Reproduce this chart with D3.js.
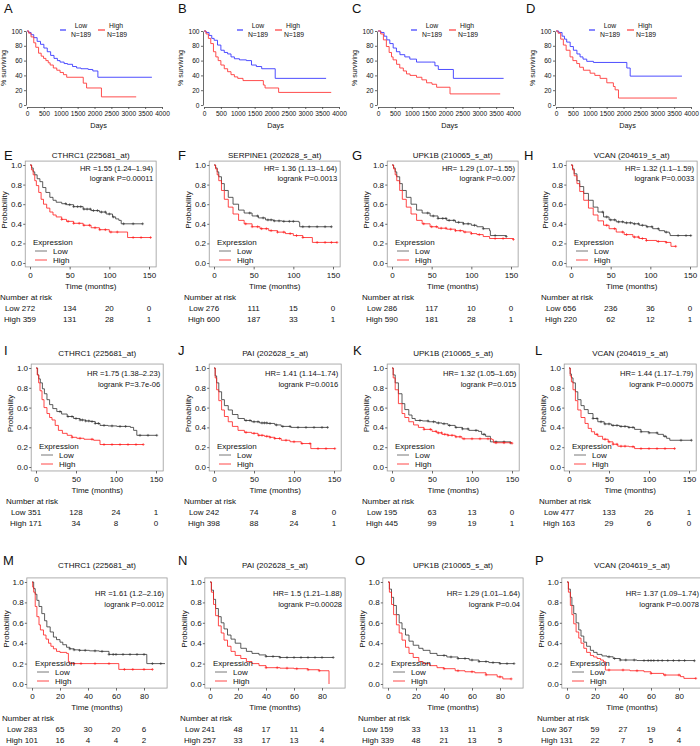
<!DOCTYPE html>
<html>
<head>
<meta charset="utf-8">
<script src="https://cdn.jsdelivr.net/npm/d3@7"></script>
<style>
  body { margin: 0; background: #fff; }
  svg text { font-family: "Liberation Sans", Arial, sans-serif; }
</style>
</head>
<body>
<svg id="fig" width="700" height="746"></svg>
<script>
// ---- top row (A-D): survival in days ----
var topLetters = ["A", "B", "C", "D"];
var topN = ["N=189", "N=189", "N=189", "N=189"];
var dayTicks = [0, 500, 1000, 1500, 2000, 2500, 3000, 3500, 4000];
var pctTicks = [0, 20, 40, 60, 80, 100];

var daysLow = [
  [[0,100],[50,98],[120,95],[200,91],[300,86],[400,82],[500,77],[600,72],[700,67],[800,63],[900,60],[980,58],[1100,56],[1200,55],[1350,52],[1470,50],[1600,49],[1814,48],[1950,46],[2100,37.5],[3700,37.5]],
  [[0,100],[60,98],[150,94],[230,90],[300,87.5],[400,81],[500,74],[600,71],[700,69],[800,65],[900,62.5],[1050,61],[1256,60],[1407,54],[1550,52],[1709,49],[2110,36],[3618,36]],
  [[0,100],[80,98],[180,93],[260,88],[350,83],[450,77],[546,72],[650,68],[794,65],[943,62],[1141,58],[1588,58],[1687,53],[1787,48],[2233,36],[3722,36]],
  [[0,100],[80,98],[180,93],[250,89],[317,85],[420,79],[515,74],[620,69],[713,65],[800,62],[911,59],[1109,57.5],[2099,50],[2198,39],[3732,39]]
];
var daysHigh = [
  [[0,100],[50,97],[120,92],[200,84],[260,78],[343,70],[420,66],[490,63],[560,60],[630,57],[686,54],[780,50],[882,47],[980,44],[1080,41],[1176,37.5],[1667,29.5],[1765,23],[2206,11],[3235,11]],
  [[0,100],[60,96],[130,90],[200,83],[280,72],[350,65],[420,60],[500,54],[600,49],[700,45],[800,41],[900,38],[1000,36],[1156,33],[1759,27],[1809,23],[2211,17],[3769,17]],
  [[0,100],[80,96],[160,88],[248,79],[330,71],[400,65],[447,61],[550,55],[645,50],[750,46],[844,42],[950,40],[1141,37.5],[1300,34],[1439,30],[1600,28],[1737,24],[2134,15],[3620,15]],
  [[0,100],[60,97],[140,89],[218,81],[300,74],[416,65],[500,60],[614,56],[700,51],[812,47],[1010,43],[1150,40],[1307,36],[1505,30],[1700,25],[1752,20.5],[1851,9.4],[3584,9.4]]
];

// ---- KM panels (E-P): probability vs months ----
var kmLetters = ["E","F","G","H","I","J","K","L","M","N","O","P"];
var kmTitles = ["CTHRC1 (225681_at)","SERPINE1 (202628_s_at)","UPK1B (210065_s_at)","VCAN (204619_s_at)",
  "CTHRC1 (225681_at)","PAI (202628_s_at)","UPK1B (210065_s_at)","VCAN (204619_s_at)",
  "CTHRC1 (225681_at)","PAI (202628_s_at)","UPK1B (210065_s_at)","VCAN (204619_s_at)"];
var kmHR = ["HR =1.55 (1.24\u20131.94)","HR= 1.36 (1.13\u20131.64)","HR= 1.29 (1.07\u20131.55)","HR= 1.32 (1.1\u20131.59)",
  "HR =1.75 (1.38\u20132.23)","HR= 1.41 (1.14\u20131.74)","HR= 1.32 (1.05\u20131.65)","HR= 1.44 (1.17\u20131.79)",
  "HR =1.61 (1.2\u20132.16)","HR= 1.5 (1.21\u20131.88)","HR= 1.29 (1.01\u20131.64)","HR= 1.37 (1.09\u20131.74)"];
var kmP = ["logrank P=0.00011","logrank P=0.0013","logrank P=0.007","logrank P=0.0033",
  "logrank P=3.7e-06","logrank P=0.0016","logrank P=0.015","logrank P=0.00075",
  "logrank P=0.0012","logrank P=0.00028","logrank P=0.04","logrank P=0.0078"];
var riskLow = [[272,134,20,0],[276,111,15,0],[286,117,10,0],[656,236,36,0],
  [351,128,24,1],[242,74,8,0],[195,63,13,0],[477,133,26,1],
  [283,65,30,20,6],[241,48,17,11,4],[159,33,13,11,3],[367,59,27,19,4]];
var riskHigh = [[359,131,28,1],[600,187,33,1],[590,181,28,1],[220,62,12,1],
  [171,34,8,0],[398,88,24,1],[445,99,19,1],[163,29,6,0],
  [101,16,4,4,2],[257,33,17,13,4],[339,48,21,13,5],[131,22,7,5,4]];
var monthTicksLong = [0, 50, 100, 150];
var monthTicksShort = [0, 20, 40, 60, 80];
var probTicks = [0, 0.2, 0.4, 0.6, 0.8, 1];

var kmLow = [
  [[0,1],[2,0.97],[4,0.93],[6,0.9],[9,0.86],[12.5,0.83],[16,0.77],[20,0.72],[25,0.67],[29,0.64],[33,0.62],[40,0.605],[46,0.595],[55,0.575],[67,0.55],[77,0.535],[87.5,0.52],[96,0.5],[104,0.47],[108,0.45],[112,0.435],[115,0.4],[142,0.4]],
  [[0,1],[2,0.97],[4,0.93],[6,0.88],[9.4,0.81],[13,0.74],[18,0.67],[24,0.6],[31,0.54],[38,0.51],[48,0.48],[56,0.46],[65,0.44],[75,0.43],[86,0.425],[107,0.415],[108,0.37],[148,0.37]],
  [[0,1],[2,0.97],[4,0.93],[6,0.88],[9.7,0.81],[13,0.74],[18,0.67],[24,0.6],[31,0.54],[38,0.51],[48,0.48],[58,0.455],[69,0.435],[80,0.415],[90,0.4],[100,0.385],[107,0.37],[115,0.35],[123,0.33],[124,0.28],[144,0.27]],
  [[0,1],[2,0.96],[4,0.91],[7.5,0.84],[11,0.78],[16,0.71],[22,0.64],[28,0.57],[34,0.52],[41,0.47],[48,0.44],[57,0.42],[67,0.41],[78,0.4],[86,0.385],[95,0.37],[103,0.35],[111,0.33],[118,0.315],[124,0.3],[125,0.28],[151,0.28]],
  [[0,1],[2,0.93],[3.5,0.89],[5.4,0.85],[8,0.79],[10.5,0.74],[13.7,0.68],[17,0.63],[21,0.59],[26,0.56],[32,0.535],[39,0.51],[47,0.49],[55,0.475],[62,0.465],[68,0.46],[74,0.44],[80,0.42],[90,0.415],[101,0.41],[118,0.4],[122,0.37],[126,0.32],[151,0.32]],
  [[0,1],[1.5,0.92],[3.3,0.85],[6,0.76],[9.5,0.68],[13,0.62],[17.8,0.576],[23,0.53],[30,0.49],[38,0.47],[47,0.457],[57,0.445],[67,0.44],[76,0.425],[84,0.41],[96,0.4],[142,0.4]],
  [[0,1],[1.5,0.93],[4,0.85],[8,0.74],[12.5,0.64],[16,0.58],[21,0.525],[25,0.49],[29,0.47],[38,0.465],[46,0.457],[55,0.445],[62.5,0.437],[70,0.42],[79,0.4],[88,0.385],[96,0.37],[108,0.36],[112,0.33],[117,0.31],[123,0.254],[148,0.244]],
  [[0,1],[1.5,0.94],[3,0.9],[5,0.85],[8,0.76],[11,0.68],[15,0.62],[19,0.58],[24,0.54],[30,0.49],[36,0.457],[44,0.435],[53,0.42],[63,0.41],[74,0.4],[82,0.38],[90,0.356],[100,0.345],[111,0.33],[118,0.31],[122,0.29],[126,0.27],[153,0.27]],
  [[0,1],[1.2,0.935],[2.3,0.88],[3.5,0.82],[5,0.76],[7,0.69],[9,0.62],[10.6,0.56],[13,0.51],[15.3,0.46],[17.5,0.435],[20,0.41],[22,0.385],[24.7,0.36],[27,0.345],[30,0.335],[34,0.33],[41,0.325],[48,0.32],[55,0.29],[82,0.2],[95,0.2]],
  [[0,1],[1,0.92],[2.5,0.83],[4,0.74],[6,0.66],[8,0.6],[10,0.54],[12.5,0.48],[15,0.44],[18,0.4],[22,0.35],[26,0.32],[30,0.3],[35,0.285],[40,0.27],[50,0.26],[88,0.26]],
  [[0,1],[1,0.93],[2.5,0.85],[4,0.77],[6,0.68],[8,0.6],[10,0.54],[12.5,0.48],[15,0.42],[18,0.38],[22,0.35],[25,0.33],[30,0.3],[35,0.28],[42,0.265],[50,0.25],[58,0.235],[65,0.22],[72,0.21],[80,0.2],[90,0.2]],
  [[0,1],[1,0.93],[2.4,0.85],[3.5,0.77],[4.8,0.69],[6.5,0.6],[8.4,0.53],[10,0.47],[12,0.41],[14,0.37],[16.7,0.33],[19,0.31],[21.5,0.29],[25,0.275],[28.6,0.267],[33,0.25],[38,0.235],[50,0.23],[91,0.228]]
];
var kmHigh = [
  [[0,1],[2,0.95],[4,0.9],[6,0.84],[8,0.79],[11,0.72],[14,0.65],[17,0.6],[21,0.56],[25,0.52],[29,0.49],[33,0.47],[40,0.445],[46,0.425],[55,0.405],[67,0.385],[77,0.36],[87.5,0.34],[100,0.316],[123,0.26],[152,0.26]],
  [[0,1],[2,0.96],[4,0.9],[6,0.84],[9.4,0.74],[13,0.65],[18,0.57],[24,0.5],[31,0.435],[38,0.4],[48,0.37],[58,0.35],[69,0.33],[80,0.315],[90,0.3],[100,0.28],[112,0.26],[124,0.21],[155,0.21]],
  [[0,1],[2,0.96],[4,0.9],[6,0.84],[9.7,0.74],[13,0.65],[18,0.57],[24,0.5],[31,0.435],[38,0.4],[48,0.37],[58,0.355],[69,0.345],[80,0.33],[90,0.316],[100,0.3],[107,0.29],[115,0.27],[123,0.25],[153,0.24]],
  [[0,1],[2,0.95],[4,0.89],[7.5,0.81],[11,0.73],[16,0.64],[22,0.56],[28,0.49],[34,0.43],[41,0.385],[48,0.35],[57,0.316],[67,0.29],[78,0.265],[86,0.25],[95,0.23],[108,0.22],[120,0.21],[126,0.17],[132,0.17]],
  [[0,1],[1.5,0.93],[3.3,0.85],[5,0.77],[7.5,0.68],[10,0.6],[13.7,0.54],[17,0.5],[20,0.475],[24,0.42],[28,0.37],[33,0.34],[39,0.32],[45,0.3],[51,0.29],[60,0.28],[72,0.27],[80,0.227],[134,0.227]],
  [[0,1],[1.5,0.9],[3.3,0.78],[6,0.67],[9.5,0.576],[13,0.51],[17.8,0.457],[23,0.41],[30,0.37],[38,0.35],[47,0.34],[55,0.32],[63,0.31],[70,0.3],[76,0.288],[84,0.27],[95,0.255],[109,0.237],[121,0.186],[151,0.186]],
  [[0,1],[1.5,0.9],[4,0.78],[8,0.64],[12.5,0.54],[16,0.5],[21,0.457],[27,0.425],[33,0.4],[40,0.38],[50,0.36],[56,0.345],[62.5,0.33],[70,0.32],[79,0.305],[87.5,0.285],[125,0.275],[127,0.245],[150,0.24]],
  [[0,1],[1.5,0.92],[3,0.86],[5,0.78],[8,0.67],[11,0.576],[15,0.5],[20,0.44],[24,0.39],[28,0.356],[32,0.33],[36,0.31],[42,0.28],[49,0.254],[55,0.23],[61,0.21],[75,0.205],[82,0.186],[132,0.186]],
  [[0,1],[0.5,0.95],[1.2,0.9],[2.3,0.76],[3.5,0.66],[5,0.58],[6,0.53],[8.2,0.48],[10,0.44],[11.8,0.4],[13.5,0.37],[15.3,0.345],[17.5,0.32],[20,0.31],[24.7,0.3],[26,0.218],[27,0.2],[62,0.143],[86,0.143]],
  [[0,1],[1,0.9],[2.5,0.78],[4,0.67],[6,0.57],[8,0.5],[10,0.43],[12.5,0.37],[15,0.32],[18,0.28],[22,0.25],[26,0.22],[30,0.2],[35,0.18],[40,0.16],[50,0.155],[60,0.15],[70,0.14],[78,0.13],[85,0]],
  [[0,1],[1,0.9],[2.5,0.78],[4,0.68],[6,0.58],[8,0.5],[10,0.43],[12.5,0.36],[15,0.3],[18,0.26],[22,0.22],[25,0.2],[30,0.18],[35,0.16],[40,0.15],[48,0.13],[55,0.12],[62,0.11],[70,0.09],[78,0.07],[82,0.05],[88,0.05]],
  [[0,1],[1,0.9],[2.4,0.77],[3.5,0.68],[4.8,0.59],[6.5,0.51],[8.4,0.45],[10,0.4],[12,0.35],[14,0.31],[16.7,0.28],[19,0.265],[21.5,0.25],[24,0.235],[26,0.218],[27.4,0.137],[45,0.13],[55,0.12],[60,0.104],[69,0.088],[81,0.072],[83.5,0.055],[92,0.055]]
];
// censoring times (months)
var censorLow = [
  [45,50,55,60,64,68,72,76,80,85,90,95,100,105,118,130,142],
  [45,55,62,68,72,76,82,88,95,100,112,120,130,140,148],
  [45,52,58,64,68,72,78,84,90,96,104,115,130,144],
  [40,45,50,55,60,65,70,75,80,85,90,96,102,110,120,135,145,151],
  [30,40,45,50,55,58,62,66,70,74,78,85,95,105,112,130,140,151],
  [40,45,50,55,60,63,66,70,78,86,95,105,115,125,135,142],
  [35,45,52,58,65,72,80,88,95,105,115,130,140,148],
  [30,35,40,45,50,55,60,65,70,75,80,90,100,110,120,140,153],
  [27,30,34,38,45,50,55,58,60,65,70,75,80,86,92],
  [40,45,50,55,60,65,70,75,80,88],
  [40,45,50,55,60,65,70,75,80,85,90],
  [30,34,38,42,48,55,58,60,62,65,68,72,76,80,84,91]
];
var censorHigh = [
  [40,48,55,62,68,75,82,88,95,102,110,130,140,152],
  [40,48,55,60,66,72,80,88,96,104,112,130,140,148,155],
  [40,50,56,62,68,74,80,86,92,100,110,130,140,153],
  [45,55,65,70,80,85,90,95,110,120,132],
  [45,55,70,85,95,105,115,125,134],
  [40,50,56,60,66,70,76,82,90,100,110,120,130,140,151],
  [40,48,55,58,62,66,70,75,80,85,90,100,110,120,130,140,150],
  [35,45,50,55,60,65,70,80,90,100,110,120,132],
  [30,35,45,55,66,72,80,86],
  [40,48,55,62,70,78],
  [40,50,60,70,80,88],
  [30,40,50,60,70,80,92]
];

// ---- layout ----
var svg = d3.select("#fig");
var FONT = '"Liberation Sans", Arial, sans-serif';
var topX = [27, 204, 378, 556], topW = 135, topY1 = 31, topY0 = 105;
var topLetterX = [4, 178, 352, 526];
var kmRows = [
  {x0: [30, 214, 392, 571], span: 119, max: 150, frame: [-6, 159], y0: 263, y1: 165, titleY: 158, letterY: 160, letterX: [4, 178, 352, 524], hrY: 5.5},
  {x0: [36, 214, 392, 569], span: 120, max: 150, frame: [-6, 159], y0: 467, y1: 368, titleY: 356, letterY: 355, letterX: [4, 178, 353, 535], hrY: 8},
  {x0: [32, 210, 388, 567], span: 112, max: 80, frame: [-3.7, 96.5], y0: 684, y1: 582, titleY: 568, letterY: 565, letterX: [3, 178, 355, 535], hrY: 14}
];

function addText(g, x, y, s, size, anchor) {
  return g.append("text").attr("x", x).attr("y", y).attr("font-size", size)
    .attr("text-anchor", anchor || "start").attr("fill", "#111").text(s);
}
function styleAxis(a, size) {
  a.attr("font-family", FONT).attr("font-size", size);
  a.selectAll("text").attr("fill", "#111");
  a.selectAll("line,path").attr("stroke", "#444").attr("stroke-width", 0.8);
}
function stepAt(pts, t) {
  var i = d3.bisector(function(d) { return d[0]; }).right(pts, t) - 1;
  return pts[Math.max(0, i)][1];
}

// top row
topLetters.forEach(function(L, i) {
  var g = svg.append("g");
  var x = d3.scaleLinear().domain([0, 4000]).range([topX[i], topX[i] + topW]);
  var y = d3.scaleLinear().domain([0, 100]).range([topY0, topY1]);
  var ax = g.append("g").attr("transform", "translate(0," + (topY0 + 2) + ")")
    .call(d3.axisBottom(x).tickValues(dayTicks).tickSize(2).tickSizeOuter(0).tickPadding(2).tickFormat(d3.format("d")));
  styleAxis(ax, 6.6);
  var ay = g.append("g").attr("transform", "translate(" + (topX[i] - 1) + ",0)")
    .call(d3.axisLeft(y).tickValues(pctTicks).tickSize(2).tickSizeOuter(0).tickPadding(1.5).tickFormat(d3.format("d")));
  styleAxis(ay, 6.6);

  var line = d3.line().curve(d3.curveStepAfter).x(function(d) { return x(d[0]); }).y(function(d) { return y(d[1]); });
  g.append("path").datum(daysLow[i]).attr("d", line).attr("fill", "none").attr("stroke", "#3a3aff").attr("stroke-width", 0.9);
  g.append("path").datum(daysHigh[i]).attr("d", line).attr("fill", "none").attr("stroke", "#ff3a3a").attr("stroke-width", 0.9);

  addText(g, topLetterX[i], 13, L, 13);
  addText(g, topX[i] + topW * 0.53, 128, "Days", 7.3, "middle");
  addText(g, 0, 0, "% surviving", 7, "middle")
    .attr("transform", "translate(" + (topX[i] - 21) + "," + ((topY0 + topY1) / 2) + ") rotate(-90)");
  // legend
  var lx = topX[i];
  g.append("line").attr("x1", lx + 33).attr("x2", lx + 39).attr("y1", 30).attr("y2", 30).attr("stroke", "#3a3aff").attr("stroke-width", 1.2);
  addText(g, lx + 54, 27.5, "Low", 6.8, "middle");
  addText(g, lx + 54, 36.5, topN[i], 6.8, "middle");
  g.append("line").attr("x1", lx + 71).attr("x2", lx + 78).attr("y1", 30).attr("y2", 30).attr("stroke", "#ff3a3a").attr("stroke-width", 1.2);
  addText(g, lx + 89, 27.5, "High", 6.8, "middle");
  addText(g, lx + 90, 36.5, topN[i], 6.8, "middle");
});

// KM panels
kmLetters.forEach(function(L, k) {
  var r = kmRows[Math.floor(k / 4)], c = k % 4;
  var ticks = r.max === 150 ? monthTicksLong : monthTicksShort;
  var g = svg.append("g");
  var x = d3.scaleLinear().domain([0, r.max]).range([r.x0[c], r.x0[c] + r.span]);
  var y = d3.scaleLinear().domain([0, 1]).range([r.y0, r.y1]);
  var fl = x(r.frame[0]), fr = x(r.frame[1]), ft = y(1.04), fb = y(-0.04);

  g.append("rect").attr("x", fl).attr("y", ft).attr("width", fr - fl).attr("height", fb - ft)
    .attr("fill", "none").attr("stroke", "#9a9a9a").attr("stroke-width", 0.8);

  var ax = g.append("g").attr("transform", "translate(0," + fb + ")")
    .call(d3.axisBottom(x).tickValues(ticks).tickSize(2.5).tickSizeOuter(0).tickPadding(2.5).tickFormat(d3.format("d")));
  ax.select(".domain").remove();
  styleAxis(ax, 8);
  var ay = g.append("g").attr("transform", "translate(" + fl + ",0)")
    .call(d3.axisLeft(y).tickValues(probTicks).tickSize(2).tickSizeOuter(0).tickPadding(1.2).tickFormat(d3.format(".1f")));
  ay.select(".domain").remove();
  styleAxis(ay, 8);

  var line = d3.line().curve(d3.curveStepAfter).x(function(d) { return x(d[0]); }).y(function(d) { return y(d[1]); });
  var series = [[kmLow[k], censorLow[k], "#333"], [kmHigh[k], censorHigh[k], "#ff1a1a"]];
  series.forEach(function(s) {
    g.append("path").datum(s[0]).attr("d", line).attr("fill", "none").attr("stroke", s[2]).attr("stroke-width", 0.8);
    g.selectAll(null).data(s[1]).enter().append("path")
      .attr("d", function(t) {
        var px = x(t), py = y(stepAt(s[0], t));
        return "M" + (px - 1.4) + "," + py + "H" + (px + 1.4) + "M" + px + "," + (py - 1.4) + "V" + (py + 1.4);
      })
      .attr("stroke", s[2]).attr("stroke-width", 0.6);
  });

  // texts
  addText(g, r.letterX[c], r.letterY, L, 13);
  addText(g, (fl + fr) / 2, r.titleY, kmTitles[k], 8, "middle");
  addText(g, fr - 3, r.y1 + r.hrY, kmHR[k], 7.6, "end");
  addText(g, fr - 3, r.y1 + r.hrY + 10.5, kmP[k], 7.6, "end");
  addText(g, (fl + fr) / 2, r.y0 + 26, "Time (months)", 8, "middle");
  addText(g, 0, 0, "Probability", 8, "middle")
    .attr("transform", "translate(" + (r.x0[c] - 23) + "," + ((r.y0 + r.y1) / 2 - 4) + ") rotate(-90)");

  // legend
  var x0 = r.x0[c];
  addText(g, x0 + 3, r.y0 - 18.5, "Expression", 8);
  g.append("line").attr("x1", x0 + 5).attr("x2", x0 + 17).attr("y1", r.y0 - 12).attr("y2", r.y0 - 12).attr("stroke", "#555").attr("stroke-width", 0.8);
  addText(g, x0 + 23, r.y0 - 9, "Low", 8);
  g.append("line").attr("x1", x0 + 5).attr("x2", x0 + 17).attr("y1", r.y0 - 3).attr("y2", r.y0 - 3).attr("stroke", "#ff1a1a").attr("stroke-width", 0.8);
  addText(g, x0 + 23, r.y0, "High", 8);

  // number at risk
  addText(g, x0 - 30, r.y0 + 37, "Number at risk", 8);
  addText(g, x0 - 10, r.y0 + 48, "Low " + riskLow[k][0], 8, "middle");
  addText(g, x0 - 10, r.y0 + 59, "High " + riskHigh[k][0], 8, "middle");
  ticks.slice(1).forEach(function(t, j) {
    addText(g, x(t), r.y0 + 48, riskLow[k][j + 1], 8, "middle");
    addText(g, x(t), r.y0 + 59, riskHigh[k][j + 1], 8, "middle");
  });
});
</script>
</body>
</html>
